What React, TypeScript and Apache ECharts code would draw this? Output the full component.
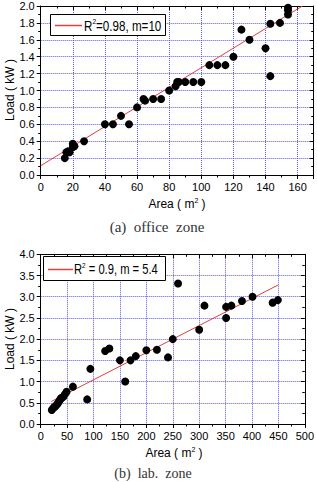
import React, { useEffect, useRef } from "react";
import * as echarts from "echarts";

// (a) office zone: area (m²) vs load (kW)
const officeArea = [15, 16, 17, 18, 20, 20, 21, 27, 40, 45, 50, 55, 60, 64, 65, 70, 75, 80, 84, 85, 86, 90, 95, 100, 105, 110, 115, 120, 125, 130, 140, 143, 143, 149, 154, 154, 154];
const officeLoad = [0.2, 0.27, 0.28, 0.27, 0.33, 0.37, 0.34, 0.4, 0.6, 0.6, 0.7, 0.6, 0.8, 0.9, 0.88, 0.9, 0.9, 1.0, 1.05, 1.1, 1.1, 1.1, 1.1, 1.1, 1.3, 1.3, 1.3, 1.4, 1.72, 1.6, 1.5, 1.17, 1.79, 1.8, 1.9, 1.95, 1.98];
const officeFitX = [0, 163];
const officeFitY = [0.11, 2.0];

// (b) lab. zone: area (m²) vs load (kW)
const labArea = [21, 24, 26, 28, 30, 32, 34, 36, 38, 40, 43, 46, 49, 61, 88, 94, 122, 130, 150, 160, 170, 180, 200, 220, 241, 250, 260, 300, 310, 351, 351, 361, 381, 401, 439, 449];
const labLoad = [0.33, 0.38, 0.4, 0.42, 0.45, 0.48, 0.52, 0.56, 0.6, 0.62, 0.65, 0.7, 0.76, 0.88, 0.58, 1.3, 1.72, 1.78, 1.5, 1.0, 1.5, 1.6, 1.74, 1.75, 1.57, 2.0, 3.31, 2.22, 2.79, 2.76, 2.5, 2.79, 2.9, 3.0, 2.86, 2.92];
const labFitX = [20, 450];
const labFitY = [0.53, 3.28];

const officeXTicks = { min: 0, max: 170, interval: 20 };
const officeYTicks = { min: 0, max: 2.0, interval: 0.2 };
const labXTicks = { min: 0, max: 500, interval: 50 };
const labYTicks = { min: 0, max: 4.0, interval: 0.5 };

const FONT = "Liberation Sans";
const FIT_RED = "#e0403c";
const GRID_LINE = { show: true, lineStyle: { color: "#5a5ae6", type: "dotted" as const, width: 1 } };

type Ticks = { min: number; max: number; interval: number };

function zip(xs: number[], ys: number[]) {
  return xs.map((x, i) => [x, ys[i]]);
}

function axisBase(gridIndex: number, t: Ticks, position: string, mirror: boolean) {
  return {
    type: "value",
    gridIndex,
    position,
    min: t.min,
    max: t.max,
    interval: t.interval,
    axisLine: { show: true, onZero: false, lineStyle: { color: "#000", width: 1 } },
    axisTick: { show: true, inside: mirror, length: 4, lineStyle: { color: "#000" } },
    minorTick: { show: true, splitNumber: 2, length: 2.5, lineStyle: { color: "#000" } },
    splitLine: mirror ? { show: false } : GRID_LINE,
  };
}

function mainX(gridIndex: number, t: Ticks) {
  return {
    ...axisBase(gridIndex, t, "bottom", false),
    axisLabel: { color: "#000", fontFamily: FONT, fontSize: 11, margin: 6, showMaxLabel: t.max % t.interval === 0 },
  };
}

function mirrorX(gridIndex: number, t: Ticks) {
  return { ...axisBase(gridIndex, t, "top", true), axisLabel: { show: false } };
}

function mainY(gridIndex: number, t: Ticks) {
  return {
    ...axisBase(gridIndex, t, "left", false),
    axisLabel: { color: "#000", fontFamily: FONT, fontSize: 11, margin: 6, formatter: (v: number) => v.toFixed(1) },
  };
}

function mirrorY(gridIndex: number, t: Ticks) {
  return { ...axisBase(gridIndex, t, "right", true), axisLabel: { show: false } };
}

const richLegend = {
  a: { fontFamily: FONT, fontSize: 14, color: "#000" },
  s: { fontFamily: FONT, fontSize: 8, color: "#000", padding: [0, 0, 9, 0] },
};

const richTitle = {
  a: { fontFamily: FONT, fontSize: 12, color: "#000" },
  s: { fontFamily: FONT, fontSize: 7, color: "#000", padding: [0, 0, 8, 0] },
};

function fitSeries(axisIndex: number, xs: number[], ys: number[]) {
  return {
    type: "line",
    xAxisIndex: axisIndex,
    yAxisIndex: axisIndex,
    data: zip(xs, ys),
    showSymbol: false,
    symbol: "none",
    clip: true,
    lineStyle: { color: FIT_RED, width: 1 },
    z: 3,
  };
}

function pointSeries(axisIndex: number, xs: number[], ys: number[]) {
  return {
    type: "scatter",
    xAxisIndex: axisIndex,
    yAxisIndex: axisIndex,
    data: zip(xs, ys),
    symbolSize: 8,
    itemStyle: { color: "#000", opacity: 1 },
    z: 4,
  };
}

export default function App() {
  const ref = useRef<HTMLDivElement>(null);

  useEffect(() => {
    document.body.style.margin = "0";
    const chart = echarts.init(ref.current!, undefined, { renderer: "svg" });
    chart.setOption({
      animation: false,
      backgroundColor: "#fff",
      grid: [
        { left: 40.7, top: 6, width: 273, height: 169, containLabel: false },
        { left: 40.7, top: 254.3, width: 266.3, height: 169.7, containLabel: false },
      ],
      xAxis: [mainX(0, officeXTicks), mirrorX(0, officeXTicks), mainX(1, labXTicks), mirrorX(1, labXTicks)],
      yAxis: [mainY(0, officeYTicks), mirrorY(0, officeYTicks), mainY(1, labYTicks), mirrorY(1, labYTicks)],
      series: [
        fitSeries(0, officeFitX, officeFitY),
        pointSeries(0, officeArea, officeLoad),
        fitSeries(2, labFitX, labFitY),
        pointSeries(2, labArea, labLoad),
      ],
      graphic: [
        // legend (a)
        { type: "rect", shape: { x: 50.5, y: 14.5, width: 115, height: 21 }, style: { fill: "#fff", stroke: "#000", lineWidth: 1 }, z: 10 },
        { type: "line", shape: { x1: 55, y1: 25.5, x2: 82, y2: 25.5 }, style: { stroke: FIT_RED, lineWidth: 1.5 }, z: 11 },
        {
          type: "text",
          x: 84,
          y: 26,
          scaleX: 0.83,
          style: { text: "{a|R}{s|2}{a|=0.98, m=10}", rich: richLegend, verticalAlign: "middle" },
          z: 11,
        },
        // legend (b)
        { type: "rect", shape: { x: 43.5, y: 256.5, width: 122, height: 24 }, style: { fill: "#fff", stroke: "#000", lineWidth: 1 }, z: 10 },
        { type: "line", shape: { x1: 48, y1: 269.5, x2: 73, y2: 269.5 }, style: { stroke: FIT_RED, lineWidth: 1.5 }, z: 11 },
        {
          type: "text",
          x: 74,
          y: 270,
          scaleX: 0.8,
          style: { text: "{a|R}{s|2}{a| = 0.9, m = 5.4}", rich: richLegend, verticalAlign: "middle" },
          z: 11,
        },
        // axis titles
        {
          type: "text",
          x: 177,
          y: 204,
          style: { text: "{a|Area ( m}{s|2}{a| )}", rich: richTitle, align: "center", verticalAlign: "middle" },
        },
        {
          type: "text",
          x: 174,
          y: 453,
          style: { text: "{a|Area ( m}{s|2}{a| )}", rich: richTitle, align: "center", verticalAlign: "middle" },
        },
        {
          type: "text",
          x: 10,
          y: 90,
          rotation: Math.PI / 2,
          style: { text: "Load ( kW )", fontFamily: FONT, fontSize: 12, fill: "#000", align: "center", verticalAlign: "middle" },
        },
        {
          type: "text",
          x: 10,
          y: 339,
          rotation: Math.PI / 2,
          style: { text: "Load ( kW )", fontFamily: FONT, fontSize: 12, fill: "#000", align: "center", verticalAlign: "middle" },
        },
        // captions
        {
          type: "text",
          x: 157,
          y: 227,
          style: { text: "(a)  office  zone", fontFamily: "Liberation Serif", fontSize: 15, fill: "#333", align: "center", verticalAlign: "middle" },
        },
        {
          type: "text",
          x: 153,
          y: 473,
          style: { text: "(b)  lab.  zone", fontFamily: "Liberation Serif", fontSize: 14, fill: "#333", align: "center", verticalAlign: "middle" },
        },
      ],
    });
    return () => chart.dispose();
  }, []);

  return <div ref={ref} style={{ position: "absolute", left: 0, top: 0, width: 317, height: 482 }} />;
}
